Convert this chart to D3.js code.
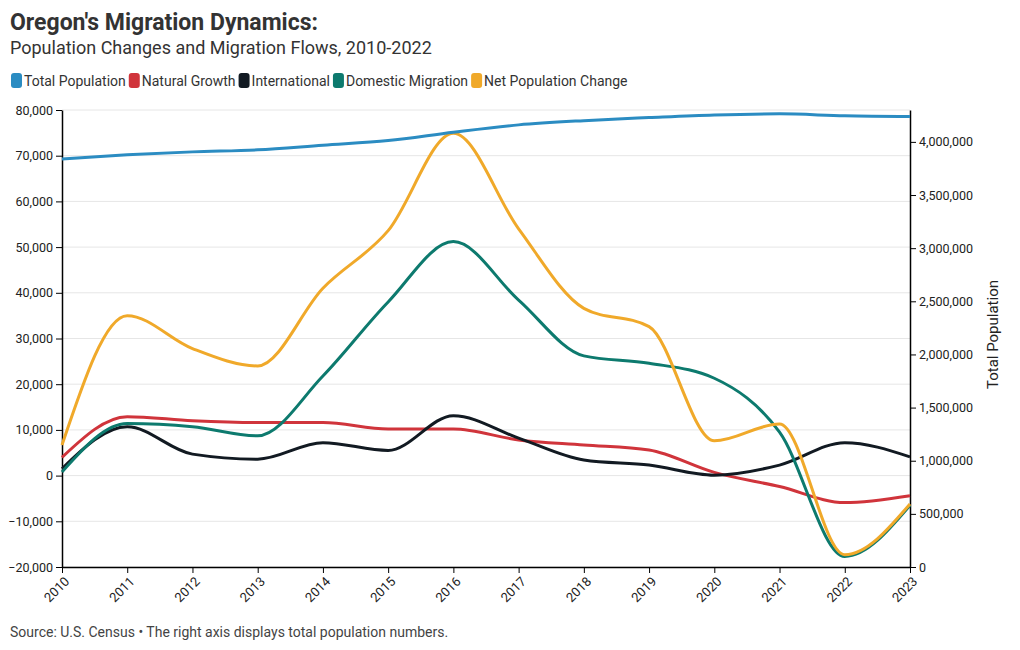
<!DOCTYPE html>
<html>
<head>
<meta charset="utf-8">
<script src="https://cdn.jsdelivr.net/npm/d3@7"></script>
<style>
  body { margin: 0; background: #fff; font-family: Roboto, "Noto Sans", sans-serif; }
  svg text { font-family: Roboto, "Noto Sans", sans-serif; }
</style>
</head>
<body>
<svg id="chart" width="1020" height="650"></svg>
<script>
const years = [2010, 2011, 2012, 2013, 2014, 2015, 2016, 2017, 2018, 2019, 2020, 2021, 2022, 2023];
const totalPopulation = [3840000, 3878000, 3906000, 3925000, 3969000, 4012000, 4091000, 4160000, 4200000, 4229000, 4254000, 4264000, 4245000, 4238000];
const naturalGrowth = [4000, 12900, 12000, 11600, 11600, 10200, 10200, 7800, 6700, 5600, 700, -2400, -5900, -4400];
const international = [1500, 10700, 4700, 3600, 7200, 5500, 13100, 8200, 3400, 2300, 100, 2300, 7200, 4100];
const domesticMigration = [800, 11400, 10700, 8700, 21800, 38000, 51200, 38400, 26200, 24600, 21300, 9500, -17700, -6500];
const netPopulationChange = [6700, 35000, 27800, 24000, 41000, 53600, 74900, 54000, 36600, 32600, 7600, 11300, -17300, -6200];

const leftTicks = [-20000, -10000, 0, 10000, 20000, 30000, 40000, 50000, 60000, 70000, 80000];
const rightTicks = [0, 500000, 1000000, 1500000, 2000000, 2500000, 3000000, 3500000, 4000000];

const seriesNames = ["Total Population", "Natural Growth", "International", "Domestic Migration", "Net Population Change"];
const seriesColors = ["#2b8cc2", "#d0343b", "#121a22", "#0d7a6e", "#f0a92a"];

const svg = d3.select("#chart");
const m = { left: 62, right: 910, top: 110, bottom: 567 };

const x = d3.scaleLinear().domain([2010, 2023]).range([m.left, m.right]);
const yL = d3.scaleLinear().domain([-20000, 80000]).range([m.bottom, m.top]);
const yR = d3.scaleLinear().domain([0, 4300000]).range([m.bottom, m.top]);

// Title
svg.append("text").attr("x", 10).attr("y", 30)
  .attr("font-size", 23).attr("font-weight", 700).attr("fill", "#333")
  .text("Oregon's Migration Dynamics:");
svg.append("text").attr("x", 10).attr("y", 54)
  .attr("font-size", 18).attr("fill", "#333")
  .text("Population Changes and Migration Flows, 2010-2022");

// Legend
let lx = 11;
seriesNames.forEach((name, i) => {
  svg.append("rect").attr("x", lx).attr("y", 73).attr("width", 11).attr("height", 15)
    .attr("rx", 3).attr("fill", seriesColors[i]);
  const t = svg.append("text").attr("x", lx + 13).attr("y", 86)
    .attr("font-size", 14).attr("fill", "#333").text(name);
  lx += 13 + t.node().getComputedTextLength() + 3;
});

// Grid
svg.append("g").selectAll("line").data(leftTicks).join("line")
  .attr("x1", m.left).attr("x2", m.right)
  .attr("y1", d => yL(d)).attr("y2", d => yL(d))
  .attr("stroke", "#e6e6e6").attr("stroke-width", 1);

// Axes
const fmt = d3.format(",");
const gL = svg.append("g").attr("transform", `translate(${m.left},0)`)
  .call(d3.axisLeft(yL).tickValues(leftTicks).tickFormat(fmt).tickSizeOuter(0));
gL.selectAll("text").attr("font-size", 12.5).attr("fill", "#222");

const gR = svg.append("g").attr("transform", `translate(${m.right},0)`)
  .call(d3.axisRight(yR).tickValues(rightTicks).tickFormat(fmt).tickSizeOuter(0));
gR.selectAll("text").attr("font-size", 12.5).attr("fill", "#222");

const gX = svg.append("g").attr("transform", `translate(0,${m.bottom})`)
  .call(d3.axisBottom(x).tickValues(years).tickFormat("").tickSizeOuter(0));

// Rotated year labels (-45 degrees)
svg.append("g").selectAll("text").data(years).join("text")
  .attr("transform", d => `translate(${x(d) + 5},${m.bottom + 12}) rotate(-45)`)
  .attr("text-anchor", "end").attr("dy", "0.35em")
  .attr("font-size", 13).attr("fill", "#222")
  .text(d => d);

[gL, gR, gX].forEach(g => g.select(".domain").attr("stroke", "#000").attr("stroke-width", 1.5));

svg.append("text")
  .attr("transform", `translate(998,${(m.top + m.bottom) / 2 - 4}) rotate(-90)`)
  .attr("text-anchor", "middle").attr("font-size", 15).attr("fill", "#222")
  .text("Total Population");

// Lines
const lineL = d3.line().x((d, i) => x(years[i])).y(d => yL(d)).curve(d3.curveMonotoneX);
const lineR = d3.line().x((d, i) => x(years[i])).y(d => yR(d)).curve(d3.curveMonotoneX);

const leftSeries = [naturalGrowth, international, domesticMigration, netPopulationChange];
leftSeries.forEach((s, i) => {
  svg.append("path").datum(s).attr("d", lineL)
    .attr("fill", "none").attr("stroke", seriesColors[i + 1]).attr("stroke-width", 3);
});
svg.append("path").datum(totalPopulation).attr("d", lineR)
  .attr("fill", "none").attr("stroke", seriesColors[0]).attr("stroke-width", 3);

// Footer
svg.append("text").attr("x", 10).attr("y", 637)
  .attr("font-size", 14).attr("fill", "#444")
  .text("Source: U.S. Census \u2022 The right axis displays total population numbers.");
</script>
</body>
</html>
